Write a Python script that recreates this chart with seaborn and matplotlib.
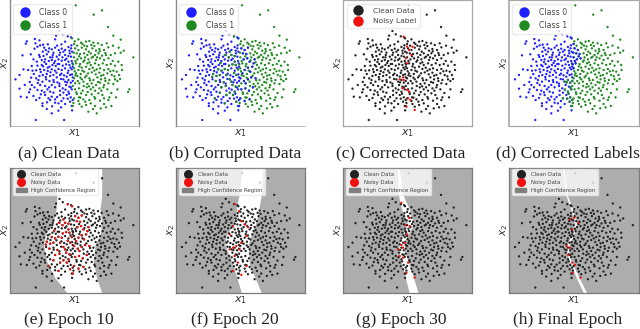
import pandas as pd
import matplotlib
matplotlib.use("Agg")
import matplotlib.pyplot as plt
import seaborn as sns
from matplotlib.lines import Line2D
from matplotlib.patches import Patch

# puntos (a), en unidades de pixel ampliado
class0_pts = [
    (178,93),(168,107),(188,103),(203,109),(213,112),(104,117),(118,121),(80,124),(77,131),(106,130),(165,118),(195,125),
    (112,140),(120,136),(132,143),(137,150),(147,145),(155,148),(165,143),(176,150),(185,146),(195,150),(205,141),(213,145),
    (128,155),(145,155),(160,158),(180,158),(190,155),(208,152),(216,155),(103,146),
    (67,166),(117,165),(130,168),(140,163),(150,172),(158,165),(170,170),(178,165),(187,172),(195,165),(205,168),(213,170),
    (125,180),(135,178),(146,183),(155,180),(165,183),(175,178),(185,182),(195,180),(205,185),(215,183),(100,178),(110,185),
    (70,208),(95,198),(112,197),(125,195),(138,192),(148,200),(157,195),(167,198),(177,192),(188,197),(198,193),(208,195),(218,200),
    (120,208),(132,210),(143,213),(155,208),(165,212),(175,207),(185,210),(195,205),(205,212),(215,208),(97,212),
    (46,238),(58,225),(93,233),(108,235),(118,228),(128,225),(140,222),(150,228),(160,225),(170,232),(180,225),(190,238),(200,230),(210,225),(218,232),
    (115,240),(127,245),(138,238),(148,243),(160,240),(172,247),(195,245),(205,240),(212,248),(218,243),
    (58,266),(95,255),(103,262),(120,255),(135,258),(142,268),(155,255),(165,262),(178,258),(188,265),(198,255),(208,260),(215,268),
    (125,272),(150,275),(160,278),(180,272),(190,278),(205,275),(112,270),(90,268),
    (62,290),(80,292),(100,288),(108,300),(122,283),(135,285),(145,295),(155,290),(165,298),(180,285),(190,295),(200,285),(212,292),(218,300),
    (127,310),(127,318),(175,310),(195,312),(210,305),(215,318),(150,300),(165,308),(155,340),(107,360),(192,360),(175,332),
    (214,136),(209,160),(199,176),(217,190),(211,203),(203,219),(192,226),(183,237),(169,218),(151,217),(137,231),(122,216),
    (113,249),(101,222),(89,246),(84,210),(92,163),(129,134),(143,133),(171,137),(184,133),(157,172),(133,186),(119,171),
    (161,246),(178,251),(147,262),(133,277),(171,291),(196,269),(207,281),(184,303),(141,307),(118,294),(87,277),(74,255),
    (216,223),(201,247),(184,221),(173,192),(162,189),(143,203),(129,199),(108,211),(212,262),(203,296),(156,319),(183,322),
    (140,327),(216,331),
]
class1_pts = [
    (227,16),(281,44),(306,31),(324,81),(340,107),(362,119),(320,130),
    (235,118),(216,115),(258,125),(268,123),(280,128),(294,130),(243,128),(222,132),(253,137),(305,135),(274,135),
    (225,145),(235,150),(245,143),(258,148),(266,155),(277,145),(288,152),(298,147),(312,150),(325,142),
    (230,160),(240,162),(252,160),(262,165),(272,160),(285,165),(295,160),(306,167),(318,165),(332,165),(345,160),(400,172),(362,158),
    (222,172),(232,178),(243,175),(255,172),(265,178),(275,173),(288,180),(300,175),(312,180),(325,175),(338,183),(355,185),
    (228,190),(240,192),(250,185),(262,190),(272,195),(285,190),(296,195),(308,190),(320,195),(332,192),(365,195),(345,197),
    (222,205),(235,210),(245,203),(258,200),(268,207),(278,203),(290,208),(300,205),(312,210),(325,207),(340,212),
    (228,220),(242,222),(252,215),(264,220),(275,217),(287,223),(298,218),(310,225),(322,220),(335,225),(350,215),(357,225),
    (222,235),(232,228),(245,238),(255,232),(268,235),(280,240),(292,232),(303,238),(315,235),(328,240),(345,238),
    (225,250),(238,250),(250,245),(262,252),(275,250),(288,255),(300,248),(312,255),(325,250),(340,252),(352,243),
    (225,268),(237,265),(248,272),(260,262),(272,268),(285,272),(298,265),(310,262),(322,268),(352,268),(388,268),(384,276),
    (230,282),(243,280),(258,285),(275,283),(295,280),(307,285),
    (222,295),(237,292),(250,298),(268,300),(285,296),(300,302),(312,295),(325,300),(328,292),(235,303),
    (218,318),(238,312),(245,320),(258,315),(272,310),(285,318),(302,325),(318,322),(265,335),(290,340),
    (224,124),(231,137),(221,158),(237,169),(226,183),(219,193),(238,199),(224,214),(233,243),(218,258),(229,277),(241,293),
    (220,309),(247,132),(261,139),(283,138),(299,154),(279,170),(253,181),(268,187),(291,172),(316,159),(339,137),(356,143),
    (371,152),(247,212),(259,227),(270,241),(283,212),(303,227),(294,246),(316,243),(331,214),(343,229),(366,210),(251,258),
    (267,259),(279,262),(304,272),(334,279),(360,237),(263,276),(283,291),(256,305),(312,312),(334,318),(348,292),(279,327),
    (226,226),(241,233),
]

# etiquetas volteadas en (b), son tambien los rojos de (e)
flip0_pts = [(203,109),(190,155),(176,165),(195,165),(187,172),(205,185),(162,189),(175,207),(137,231),(155,208),(188,197),
             (140,222),(160,225),(203,219),(215,208),(195,245),(210,225),(198,255),(208,260),(145,295),(180,285),(210,305),(175,310),(160,278),
             (148,243),(172,247),(185,210),(165,212),(178,258),(190,238),(205,168),(208,195),(150,228),(198,193),(165,262),
             (200,285),(190,278),(205,275),(180,225)]
flip1_pts = [(216,115),(235,150),(225,145),(230,160),(240,162),(232,178),(250,185),(235,210),(245,203),(228,220),(222,235),
             (233,243),(225,268),(237,265),(222,295),(235,303),(218,318),
             (245,238),(252,215),(258,200),(262,190),(243,175),(255,232),(268,235),(248,272),(260,262),(238,250),(250,298),(245,143),(265,178)]
# rojos de los demas paneles
red_c_pts = [(212,110),(222,140),(228,150),(238,140),(235,165),(218,175),(222,190),(210,232),(200,238),(212,240),
             (208,265),(222,270),(228,275),(225,295),(232,300),(220,320),(245,330)]
red_f_pts = [(205,108),(218,130),(225,160),(235,170),(245,178),(200,175),(190,200),(240,205),(225,225),(210,235),
             (200,240),(190,245),(220,245),(205,265),(215,285),(240,295),(200,310),(225,322)]
red_g_pts = [(205,105),(228,150),(218,172),(230,175),(222,200),(215,225),(205,232),(195,245),(210,240),(200,265),
             (210,270),(225,285),(245,330),(220,315)]
red_h_pts = [(211,155),(236,165),(218,185),(201,235),(211,240),(206,262),(218,285),(226,292),(219,316),(243,330),(224,150)]
# cambios de clase en (d)
d_to_blue = [(225,145),(235,150),(230,160),(222,172),(232,178),(228,190),(222,205),(216,115),(222,132),(240,162),(243,175),
             (221,158),(237,169),(226,183),(219,193)]
d_to_green = [(195,245),(205,240),(212,248),(218,243),(205,275),(215,268),(212,292),(218,300),(210,305),(215,318),(190,295),
              (201,247),(212,262),(207,281),(203,296),(196,269)]

# banda blanca (baja confianza): y, borde izquierdo, borde derecho
band_e_y = [0, 84, 122, 162, 202, 232, 282, 332, 375]
band_e_l = [165, 170, 168, 160, 135, 130, 140, 165, 200]
band_e_r = [305, 305, 300, 305, 300, 285, 280, 290, 305]
band_f_y = [0, 82, 112, 162, 202, 232, 292, 375]
band_f_l = [228, 218, 212, 205, 180, 175, 200, 225]
band_f_r = [290, 285, 280, 270, 255, 245, 250, 285]
band_g_y = [0, 82, 122, 162, 182, 217, 252, 302, 375]
band_g_l = [192, 196, 205, 222, 218, 200, 195, 210, 228]
band_g_r = [198, 210, 228, 240, 235, 215, 215, 232, 255]
band_h_y = [0, 82, 122, 167, 202, 237, 272, 332, 375]
band_h_l = [188, 199, 213, 226, 216, 199, 206, 231, 251]
band_h_r = [192, 203, 219, 231, 221, 206, 211, 239, 261]

captions = ["(a) Clean Data", "(b) Corrupted Data", "(c) Corrected Data", "(d) Corrected Labels",
            "(e) Epoch 10", "(f) Epoch 20", "(g) Epoch 30", "(h) Final Epoch"]

BLUE, GREEN, BLACK, RED = "#1f1fff", "#1f8a1f", "#222222", "#f01010"
GRAY = "#adadad"
W, H = 640, 329

sns.set_style("white")
plt.rcParams["font.family"] = ["DejaVu Sans"]
plt.rcParams["mathtext.fontset"] = "dejavusans"


def make_df(groups):
    # groups: lista de (puntos, etiqueta); lo ultimo queda encima
    rows = []
    for pts, name in groups:
        rows += [(x, y, name) for x, y in pts]
    df = pd.DataFrame(rows, columns=["x1", "x2", "label"])
    return df


def add_axes(fig, left, right, top, bottom):
    return fig.add_axes([left / W, 1 - bottom / H, (right - left) / W, (bottom - top) / H])


def draw_panel(ax, groups, palette, ymax=378):
    df = make_df(groups)
    sns.scatterplot(data=df, x="x1", y="x2", hue="label", palette=palette, s=2.8, linewidth=0,
                    legend=False, ax=ax, zorder=3)
    ax.set_xlim(28, 417)
    ax.set_ylim(ymax, 0)
    ax.set_xticks([])
    ax.set_yticks([])
    ax.set_xlabel("$x_1$", fontsize=8, labelpad=1.0, color="#333333")
    ax.set_ylabel("$x_2$", fontsize=7.5, labelpad=-0.8, color="#333333")


def dot(color, label, ms=7.5):
    return Line2D([], [], marker="o", linestyle="", color=color, markersize=ms, markeredgewidth=0, label=label)


def top_legend(ax, handles, fontsize, bbox=(0.027, 0.968)):
    ax.legend(handles=handles, loc="upper left", bbox_to_anchor=bbox, fontsize=fontsize, frameon=True,
              framealpha=0.8, edgecolor="#e8e8e8", labelcolor="#444444", borderpad=0.5, handletextpad=0.9,
              labelspacing=0.55, borderaxespad=0.0)


def set_spines(ax, color, widths):
    for side, w in zip(["left", "right", "top", "bottom"], widths):
        ax.spines[side].set_visible(w > 0)
        ax.spines[side].set_color(color)
        ax.spines[side].set_linewidth(w)


fig = plt.figure(figsize=(W / 100, H / 100), dpi=100)

columns = [(9.5, 139), (176, 305), (342.5, 472), (509, 638.5)]

# fila de arriba
ax_a = add_axes(fig, *columns[0], 0, 126)
draw_panel(ax_a, [(class0_pts, "c0"), (class1_pts, "c1")], {"c0": BLUE, "c1": GREEN})
top_legend(ax_a, [dot(BLUE, "Class 0"), dot(GREEN, "Class 1")], 5.6)
set_spines(ax_a, "#8a8a8a", [1.0, 1.0, 0, 0.4])

ax_b = add_axes(fig, *columns[1], 0, 126)
draw_panel(ax_b, [(class0_pts, "c0"), (class1_pts, "c1"), (flip0_pts, "c1"), (flip1_pts, "c0")], {"c0": BLUE, "c1": GREEN})
top_legend(ax_b, [dot(BLUE, "Class 0"), dot(GREEN, "Class 1")], 5.6)
set_spines(ax_b, "#8a8a8a", [1.0, 0, 0, 0.4])

ax_c = add_axes(fig, *columns[2], 0, 126)
draw_panel(ax_c, [(class0_pts, "clean"), (class1_pts, "clean"), (red_c_pts, "noisy")], {"clean": BLACK, "noisy": RED})
top_legend(ax_c, [dot(BLACK, "Clean Data"), dot(RED, "Noisy Label")], 5.4, bbox=(0.035, 0.968))
set_spines(ax_c, "#a8a8a8", [0.9, 0.9, 0.9, 0.9])

ax_d = add_axes(fig, *columns[3], 0, 126)
draw_panel(ax_d, [(class0_pts, "c0"), (class1_pts, "c1"), (d_to_blue, "c0"), (d_to_green, "c1")], {"c0": BLUE, "c1": GREEN})
top_legend(ax_d, [dot(BLUE, "Class 0"), dot(GREEN, "Class 1")], 5.6)
set_spines(ax_d, "#a8a8a8", [1.2, 0.9, 0.9, 0.9])

# fila de abajo, con la region de alta confianza
lower = [(flip0_pts + flip1_pts, band_e_y, band_e_l, band_e_r),
         (red_f_pts, band_f_y, band_f_l, band_f_r),
         (red_g_pts, band_g_y, band_g_l, band_g_r),
         (red_h_pts, band_h_y, band_h_l, band_h_r)]
for col, (reds, by, bl, br) in zip(columns, lower):
    ax = add_axes(fig, *col, 168, 292.5)
    draw_panel(ax, [(class0_pts, "clean"), (class1_pts, "clean"), (reds, "noisy")],
               {"clean": BLACK, "noisy": RED}, ymax=375)
    ax.set_facecolor(GRAY)
    ax.fill_betweenx(by, bl, br, color="white", linewidth=0, zorder=1)
    top_legend(ax, [dot(BLACK, "Clean Data", 6.5), dot(RED, "Noisy Data", 6.5),
                    Patch(color="#808080", label="High Confidence Region")], 3.9, bbox=(0.027, 0.992))
    ax.get_legend().get_frame().set_alpha(0.78)
    set_spines(ax, "#7a7a7a", [0.9, 0.9, 0.9, 0.9])

# titulos debajo de cada panel
centers = [69, 235, 401, 567.5]
for i, cap in enumerate(captions):
    y = 153.5 if i < 4 else 320
    fig.text(centers[i % 4] / W, 1 - y / H, cap, family="Liberation Serif", fontsize=12.5, color="#222222",
             ha="center", va="center")

plt.savefig("out.png", dpi=100)
plt.close()
